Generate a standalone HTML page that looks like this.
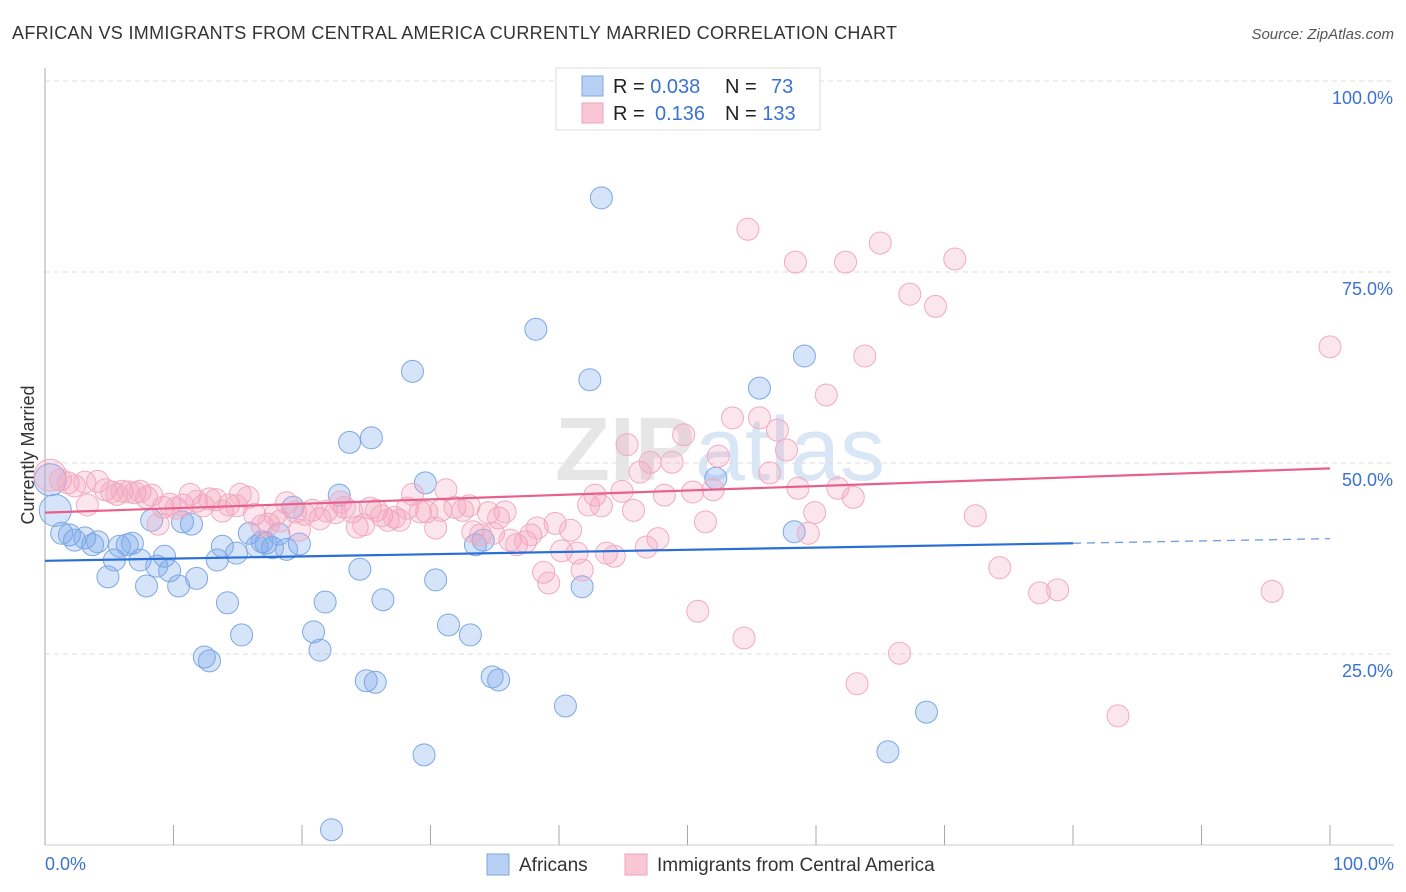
<!DOCTYPE html>
<html><head><meta charset="utf-8"><style>
body{margin:0;background:#fff;font-family:"Liberation Sans",sans-serif;}
#c{position:relative;width:1406px;height:892px;overflow:hidden}
</style></head><body>
<div id="c">
<svg id="s" width="1406" height="892" xmlns="http://www.w3.org/2000/svg">
<text x="12" y="39" font-size="18" fill="#333" textLength="885" lengthAdjust="spacing">AFRICAN VS IMMIGRANTS FROM CENTRAL AMERICA CURRENTLY MARRIED CORRELATION CHART</text>
<text x="1394" y="39" font-size="15" fill="#555" font-style="italic" text-anchor="end">Source: ZipAtlas.com</text>
<text x="720" y="480" font-size="90" fill="#e6e6e6" text-anchor="middle" font-weight="bold">ZIP<tspan fill="#d9e6f5" font-weight="normal">atlas</tspan></text>
<g id="grid"></g>
<g id="axes"></g>
<g id="pts"></g>
<g id="trends"></g>
<text transform="translate(34,455) rotate(-90)" font-size="18" fill="#333" text-anchor="middle">Currently Married</text>
<g>
<rect x="556" y="68" width="264" height="62" fill="#fff" stroke="#ddd"/>
<rect x="582" y="76" width="21" height="20" fill="#b8d0f4" stroke="#7fa6e0"/>
<rect x="582" y="103" width="21" height="20" fill="#f9c6d6" stroke="#eea0b8"/>
<text x="613" y="93" font-size="20" fill="#222">R = <tspan fill="#3a72d0">0.038</tspan></text>
<text x="725" y="93" font-size="20" fill="#222">N = <tspan fill="#3a72d0" x="771">73</tspan></text>
<text x="613" y="120" font-size="20" fill="#222">R = <tspan fill="#3a72d0" x="655">0.136</tspan></text>
<text x="725" y="120" font-size="20" fill="#222">N = <tspan fill="#3a72d0">133</tspan></text>
</g>
<g>
<rect x="487" y="854" width="22" height="21" fill="#b8d0f4" stroke="#7fa6e0"/>
<text x="519" y="871" font-size="19" fill="#333">Africans</text>
<rect x="625" y="854" width="22" height="21" fill="#f9c6d6" stroke="#eea0b8"/>
<text x="657" y="871" font-size="19" fill="#333">Immigrants from Central America</text>
</g>
</svg>
</div>
<script>
const yTicks=[25,50,75,100];
const yTickLabels=["25.0%","50.0%","75.0%","100.0%"];
const xTickLabels=["0.0%","100.0%"];
const blueX=[0.4,0.8,1.3,1.9,2.3,3.1,3.7,4.1,4.9,5.4,5.8,6.4,6.8,7.4,7.9,8.3,8.7,9.3,9.7,10.4,10.7,11.4,11.8,12.4,12.8,13.4,13.8,14.2,14.9,15.3,15.9,16.5,16.9,17.2,17.7,18.2,18.8,19.3,19.8,20.9,21.4,21.8,22.3,22.9,23.7,24.5,25.0,25.4,25.7,26.3,28.6,29.5,29.6,30.4,31.4,33.1,33.5,34.1,34.8,35.3,38.2,40.5,41.8,42.4,43.3,52.2,55.6,58.3,59.1,65.6,68.6];
const blueY=[47.8,43.8,40.8,40.6,39.9,40.2,39.3,39.7,35.1,37.3,39.1,39.3,39.5,37.3,33.9,42.5,36.5,37.8,35.9,33.9,42.3,42.0,34.9,24.6,24.1,37.3,39.1,31.7,38.2,27.5,40.8,39.1,39.7,39.5,38.9,40.7,38.7,44.2,39.4,27.9,25.5,31.8,2.0,45.8,52.7,36.1,21.5,53.3,21.3,32.1,62.0,11.8,47.4,34.7,28.8,27.5,39.3,39.9,22.0,21.6,67.5,18.2,33.8,60.9,84.7,48.0,59.8,41.0,64.0,12.2,17.4];
const pinkX=[0.4,1.2,1.8,2.3,3.1,3.3,4.1,4.7,5.2,5.6,6.0,6.5,7.0,7.4,7.9,8.3,8.8,9.2,9.7,10.2,10.7,11.3,11.8,12.3,12.8,13.3,13.8,14.3,14.9,15.2,15.8,16.3,16.9,17.4,17.9,18.3,18.8,19.5,19.8,20.2,20.8,21.4,21.9,22.6,23.0,23.3,23.9,24.3,24.8,25.3,25.8,26.2,26.7,27.2,27.6,28.2,28.6,29.2,29.7,30.4,30.8,31.2,31.9,32.5,33.0,33.3,33.9,34.5,34.9,35.3,35.8,36.2,36.7,37.4,37.8,38.3,38.8,39.2,39.7,40.2,40.9,41.4,41.8,42.3,42.8,43.3,43.7,44.3,44.9,45.3,45.8,46.3,46.8,47.1,47.7,48.2,48.8,49.7,50.4,50.8,51.4,52.0,52.4,53.5,54.4,54.7,55.6,56.4,57.0,57.7,58.6,58.4,59.4,59.9,60.8,61.7,62.3,62.9,63.2,63.8,65.0,66.5,67.3,69.3,70.8,72.4,74.3,77.4,78.8,83.5,95.5,100];
const pinkY=[48.4,47.8,47.4,47.0,47.5,44.5,47.6,46.5,46.2,45.9,46.3,46.2,46.1,46.3,45.5,45.8,42.0,44.2,44.6,44.1,44.5,45.9,45.0,44.4,45.3,45.2,43.7,44.5,44.4,45.9,45.5,43.3,41.8,42.0,43.2,42.4,44.8,43.6,41.2,43.3,43.8,42.7,43.7,43.5,44.9,44.2,43.6,41.6,41.9,44.1,43.8,43.1,42.5,42.9,42.5,44.1,45.9,43.6,43.6,41.5,43.8,46.5,44.2,43.8,44.4,41.0,40.6,43.5,40.8,42.8,43.6,39.9,39.3,39.7,40.6,41.5,35.7,34.3,42.1,38.5,41.2,38.2,36.0,44.5,45.8,44.4,38.2,37.8,46.3,52.4,43.8,48.8,39.0,50.1,40.1,45.8,50.1,53.7,46.2,30.6,42.3,46.5,50.9,55.9,27.1,80.6,55.9,48.7,54.3,51.7,46.7,76.3,40.8,43.5,58.9,46.7,76.3,45.5,21.1,64.0,78.8,25.1,72.1,70.5,76.7,43.1,36.3,33.0,33.4,16.9,33.2,65.2];
const blueTrend=[37.2,39.5];   // y at x=0, x=80
const blueTrendEnd=40.1;       // y at x=100 (dashed)
const pinkTrend=[43.5,49.3];   // y at x=0, x=100

const X0=45,X1=1330,Y0=845,Y100=81;
const sx=v=>X0+(X1-X0)*v/100;
const sy=v=>Y0-(Y0-Y100)*v/100;
const NS="http://www.w3.org/2000/svg";
function mk(tag,attrs,parent){const e=document.createElementNS(NS,tag);for(const k in attrs)e.setAttribute(k,attrs[k]);document.getElementById(parent).appendChild(e);return e;}

yTicks.forEach((t,i)=>{
  const g=mk('line',{x1:X0,x2:1394,y1:sy(t),y2:sy(t),stroke:'#ddd','stroke-dasharray':'5,4'},'grid');
  
  
  const l=mk('text',{x:1393,y:sy(t)+23,'font-size':18,fill:'#3a72d0','text-anchor':'end'},'grid');
  l.textContent=yTickLabels[i];
  
  
});
const ax=mk('line',{x1:X0,x2:X0,y1:68,y2:Y0,stroke:'#aaa'},'axes');


const bx=mk('line',{x1:X0,x2:1394,y1:Y0,y2:Y0,stroke:'#ccc'},'axes');


for(let i=0;i<=10;i++){
  const t=mk('line',{x1:sx(i*10),x2:sx(i*10),y1:Y0-20,y2:Y0,stroke:'#aaa'},'axes');
  
  
}
[[0,'start',X0],[1,'end',1394]].forEach(([i,a,x])=>{
  const l=mk('text',{x:x,y:870,'font-size':18,fill:'#3a72d0','text-anchor':a},'axes');
  l.textContent=xTickLabels[i];
  
  
});
function dots(xs,ys,fill,stroke,name,bigCount){
  xs.forEach((x,i)=>{
    const r=i<bigCount?16:11;
    const c=mk('circle',{cx:sx(x),cy:sy(ys[i]),r:r,fill:fill,stroke:stroke,'stroke-width':1},'pts');
    
    
  });
}
dots(blueX,blueY,'rgba(120,165,235,0.3)','#7ea7e3','blue-point',2);
dots(pinkX,pinkY,'rgba(245,160,188,0.26)','#f2aac0','pink-point',1);
const bt=mk('line',{x1:sx(0),y1:sy(blueTrend[0]),x2:sx(80),y2:sy(blueTrend[1]),stroke:'#2a6fd6','stroke-width':2.2},'trends');


const bd=mk('line',{x1:sx(80),y1:sy(blueTrend[1]),x2:sx(100),y2:sy(blueTrendEnd),stroke:'#6f9de0','stroke-width':1.3,'stroke-dasharray':'8,6'},'trends');


const pt=mk('line',{x1:sx(0),y1:sy(pinkTrend[0]),x2:sx(100),y2:sy(pinkTrend[1]),stroke:'#e8608a','stroke-width':2.2},'trends');


</script>
</body></html>
